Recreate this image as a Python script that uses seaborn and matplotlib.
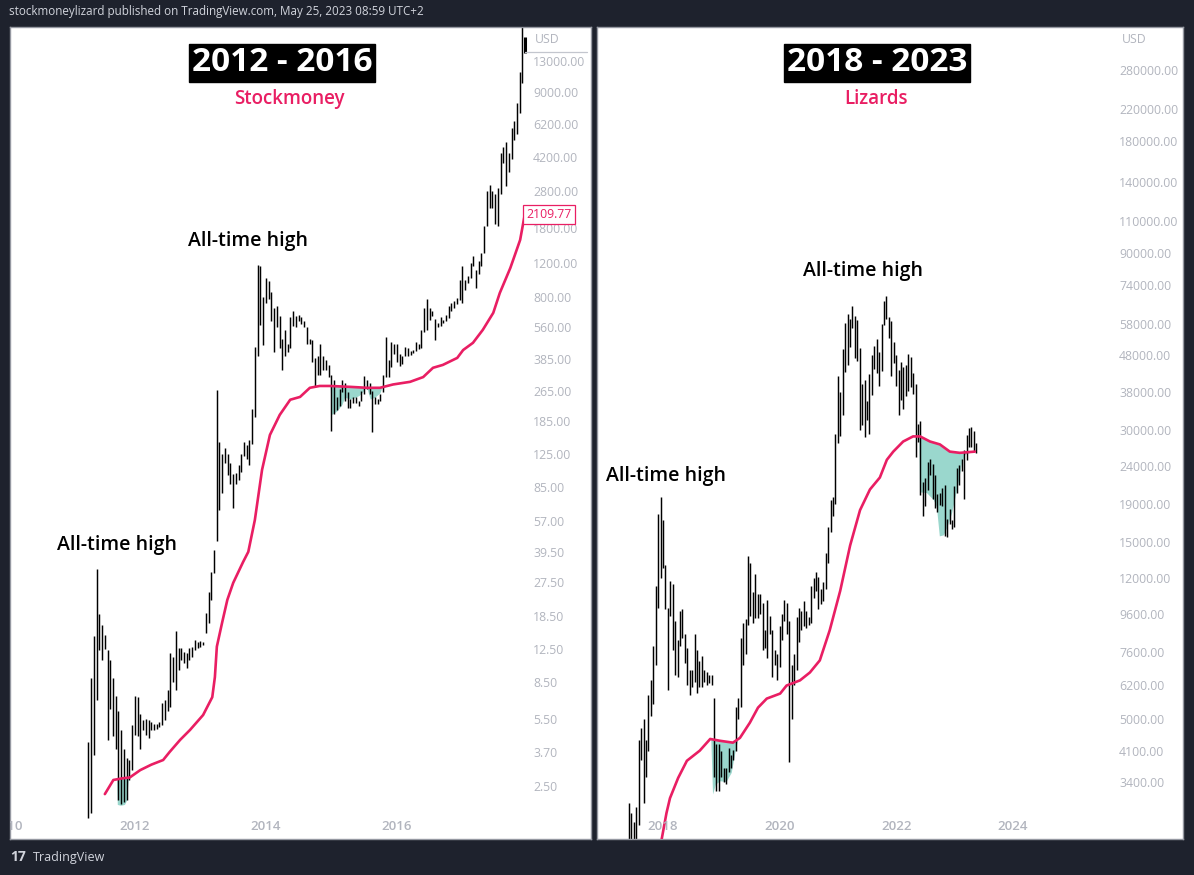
import numpy as np
import matplotlib
matplotlib.use("Agg")
import matplotlib.pyplot as plt
import matplotlib.transforms as mtransforms
from matplotlib.ticker import NullLocator
import seaborn as sns

sns.set_theme(style="white")
plt.rcParams["font.family"] = ["Open Sans", "DejaVu Sans"]

BG = "#1e222d"
PINK = "#e91e63"
TEAL = "#9ad7cd"
GREY = "#b2b5be"

## LEFT PANEL 2012 - 2016 (half-month bars from mid April 2011)
left_start = 2011.29
left_low = [1.7, 1.8, 3.6, 6.9, 12.4, 11.0, 12.5, 4.3, 6.2, 4.5, 3.85, 2.1,
            2.0, 2.05, 2.1, 2.67, 3.0, 4.55, 4.5, 3.85, 4.8, 4.55, 4.4, 4.8,
            4.8, 4.9, 5.0, 5.1, 5.4, 6.0, 6.3, 8.5, 7.7, 9.8, 11.0, 10.6,
            10.0, 11.0, 11.4, 12.4, 12.7, 12.9, 13.2, 15.2, 17.1, 22.4, 30.8, 45,
            65, 79, 113, 98, 88, 66, 88, 92, 101, 122, 118, 110,
            141, 195, 400, 576, 455, 750, 780, 600, 420, 560, 440, 340,
            400, 420, 440, 570, 560, 600, 580, 560, 460, 460, 370, 275,
            320, 320, 340, 340, 310, 165, 200, 210, 220, 260, 235, 215,
            215, 230, 230, 220, 235, 255, 270, 255, 162, 225, 225, 235,
            260, 310, 310, 350, 410, 370, 355, 365, 400, 400, 405, 415,
            425, 435, 440, 530, 540, 610, 640, 480, 560, 570, 590, 605,
            625, 680, 700, 740, 770, 750, 870, 950, 1000, 1150, 890, 1050,
            1150, 1350, 1850, 2300, 2300, 1900, 1850, 2700, 3900, 2970, 3500, 4100,
            5100, 5500, 7000, 10000, 14300]
left_high = [4.2, 8.9, 14.6, 32.3, 19.0, 16.7, 14.8, 12.4, 11.0, 8.9, 7.2, 6.0,
             4.8, 3.85, 3.47, 3.4, 5.1, 7.2, 7.1, 5.8, 5.4, 5.5, 5.4, 5.3,
             5.2, 5.2, 5.3, 6.6, 6.9, 7.7, 12.0, 11.4, 15.5, 12.7, 12.7, 12.1,
             12.0, 12.7, 12.9, 14.0, 13.6, 13.8, 13.6, 19.2, 24.6, 31.1, 40.4, 266,
             145, 125, 135, 125, 113, 99, 100, 110, 125, 145, 139, 148,
             213, 445, 1163, 1150, 800, 1000, 970, 850, 700, 720, 640, 490,
             540, 460, 630, 680, 640, 650, 630, 600, 560, 490, 480, 390,
             400, 460, 400, 380, 360, 320, 300, 245, 270, 300, 290, 260,
             240, 245, 245, 235, 265, 315, 300, 290, 265, 245, 240, 255,
             320, 500, 380, 470, 460, 460, 410, 400, 445, 440, 425, 430,
             470, 460, 540, 700, 780, 700, 680, 620, 590, 630, 610, 645,
             720, 750, 760, 790, 975, 1150, 980, 1020, 1200, 1300, 1100, 1230,
             1350, 1850, 2800, 3000, 2800, 2700, 2900, 4400, 4700, 5000, 4400, 5900,
             6400, 7900, 11400, 19800, 17300]
left_ma_years = [2011.54, 2011.67, 2011.80, 2011.92, 2012.08, 2012.25, 2012.43, 2012.53,
                 2012.69, 2012.84, 2013.04, 2013.18, 2013.22, 2013.25, 2013.33, 2013.41,
                 2013.50, 2013.65, 2013.73, 2013.83, 2013.94, 2014.06, 2014.21, 2014.37,
                 2014.52, 2014.67, 2014.82, 2014.98, 2015.29, 2015.54, 2015.74, 2015.94,
                 2016.20, 2016.40, 2016.55, 2016.70, 2016.92, 2017.01, 2017.16, 2017.31,
                 2017.47, 2017.57, 2017.73, 2017.80, 2017.88, 2017.95]
left_ma = [2.26, 2.67, 2.72, 2.75, 3.0, 3.2, 3.38, 3.72,
           4.29, 4.82, 5.75, 7.1, 9.0, 12.9, 17.1, 22.4,
           27.4, 35, 39.5, 57.5, 104, 157, 199, 238,
           246, 274, 280, 280, 277, 274, 274, 285,
           294, 311, 347, 359, 390, 428, 466, 543,
           664, 840, 1127, 1315, 1570, 2109.77]
left_zones = [
    ([2011.72, 2011.73, 2011.78, 2011.84, 2011.87, 2011.90],
     [99, 2.0, 1.98, 2.0, 2.1, 99]),
    ([2014.98, 2015.00, 2015.08, 2015.16, 2015.20, 2015.30, 2015.42, 2015.48, 2015.52],
     [999, 200, 208, 225, 245, 240, 250, 262, 999]),
    ([2015.54, 2015.59, 2015.66, 2015.74, 2015.77],
     [999, 240, 245, 258, 999]),
]
left_yticks = [2.5, 3.7, 5.5, 8.5, 12.5, 18.5, 27.5, 39.5, 57, 85, 125, 185,
               265, 385, 560, 800, 1200, 1800, 2800, 4200, 6200, 9000, 13000]
left_xticks = [2010, 2012, 2014, 2016]

## RIGHT PANEL 2018 - 2023 (half-month bars from June 2017)
right_start = 2017.417
right_low = [2100, 2200, 1850, 1850, 2600, 3900, 2970, 3500, 4100, 5100, 5500, 7000,
             10000, 12000, 12800, 9900, 6000, 9500, 7700, 6600, 6500, 7900, 8300, 7100,
             6200, 5800, 6100, 6300, 5900, 6100, 6100, 6300, 6200, 6250, 6200, 3500,
             3200, 3200, 3500, 3400, 3350, 3600, 3700, 3900, 4100, 5000, 5400, 7000,
             7500, 9000, 9500, 9100, 9400, 9400, 9600, 7700, 7800, 7300, 8500, 6500,
             7000, 6400, 6900, 8200, 9200, 8500, 3850, 5000, 6200, 6800, 8100, 8700,
             8900, 8800, 9000, 9100, 10600, 11100, 9900, 10200, 10400, 11200, 13200, 16000,
             17600, 19000, 27700, 29000, 33000, 43000, 45000, 50300, 56500, 47000, 46000, 30000,
             31000, 28800, 32000, 29300, 37300, 44000, 42900, 39600, 43300, 57800, 60000, 53300,
             42000, 45500, 39600, 33000, 36300, 34300, 37200, 38200, 39200, 37600, 25400, 28000,
             20100, 17600, 18800, 20700, 22700, 19600, 18500, 18100, 18900, 18800, 15600, 15500,
             16800, 16300, 16500, 20400, 21400, 23300, 19600, 24900, 27000, 27000, 26400, 26100]
right_high = [2980, 2800, 2650, 2900, 4400, 4750, 5000, 4400, 5800, 6400, 7900, 11400,
              17900, 19800, 17200, 13000, 10000, 11800, 11600, 9200, 8200, 9800, 9900, 8500,
              7800, 6800, 6800, 8500, 7700, 7200, 7400, 6800, 6700, 6600, 6600, 5700,
              4300, 4300, 4100, 3700, 3700, 4200, 4000, 4150, 5400, 5700, 8300, 9100,
              9300, 13800, 13200, 11000, 12300, 10900, 10900, 10300, 8700, 10500, 9500, 8700,
              7700, 7500, 8900, 9600, 10500, 10300, 9200, 7000, 7500, 9450, 10000, 9800,
              10400, 9800, 9450, 11400, 12000, 12500, 12100, 11200, 11700, 14000, 16500, 19500,
              19900, 29300, 42000, 38000, 49700, 58300, 61800, 60000, 64800, 61000, 59600, 50000,
              40000, 41000, 35900, 42500, 48000, 50500, 52900, 48800, 58000, 67000, 69000, 60700,
              59000, 52000, 47900, 43500, 45800, 44400, 45000, 48200, 47400, 42900, 39900, 31300,
              31800, 21800, 22400, 24600, 25200, 24400, 22800, 20200, 20400, 21000, 21400, 17300,
              18400, 17200, 21300, 23800, 24200, 25200, 26500, 29200, 30500, 30600, 29800, 27800]
right_ma_years = [2017.96, 2018.06, 2018.12, 2018.26, 2018.41, 2018.63, 2018.81, 2018.98,
                  2019.20, 2019.32, 2019.49, 2019.63, 2019.78, 2020.01, 2020.12, 2020.35,
                  2020.52, 2020.69, 2020.86, 2021.04, 2021.21, 2021.38, 2021.55, 2021.72,
                  2021.84, 2021.95, 2022.12, 2022.29, 2022.41, 2022.58, 2022.75, 2022.92,
                  2023.09, 2023.35]
right_ma = [2300, 2800, 3070, 3480, 3870, 4120, 4430, 4380,
            4330, 4460, 4900, 5380, 5690, 5870, 6170, 6370,
            6690, 7210, 8690, 11100, 14700, 18300, 20800, 22400,
            25000, 26300, 28000, 28900, 28900, 28000, 27500, 26300,
            26100, 26300]
right_zones = [
    ([2018.82, 2018.85, 2018.90, 2018.98, 2019.08, 2019.17, 2019.23, 2019.28],
     [1e6, 3150, 3350, 3420, 3400, 3600, 4050, 1e6]),
    ([2022.39, 2022.40, 2022.52, 2022.64, 2022.69, 2022.74, 2022.81, 2022.87,
      2022.95, 2023.01, 2023.07, 2023.12, 2023.18, 2023.30],
     [1e6, 20500, 20400, 19500, 18700, 15600, 15700, 16500,
      18000, 19900, 22100, 24500, 25900, 1e6]),
]
right_yticks = [3400, 4100, 5000, 6200, 7600, 9600, 12000, 15000, 19000, 24000,
                30000, 38000, 48000, 58000, 74000, 90000, 110000, 140000, 180000,
                220000, 280000]
right_xticks = [2018, 2020, 2022, 2024]

ath_text = "All-time high"

fig = plt.figure(figsize=(11.94, 8.75), dpi=100, facecolor=BG)
W, H = 1194, 875


def panel(px, xlim, ylim, start, lows, highs, ma_x, ma_y, zones,
          yticks, xticks, label_pad, thick_last=False):
    x0, x1, y0, y1 = px
    ax = fig.add_axes([x0 / W, 1 - y1 / H, (x1 - x0) / W, (y1 - y0) / H])
    ax.set_facecolor("white")
    xs = start + np.arange(len(lows)) / 24
    n = len(lows) - 1 if thick_last else len(lows)
    ax.vlines(xs[:n], lows[:n], highs[:n], color="black", lw=1.05, zorder=2)
    if thick_last:
        ax.vlines(xs[n:], lows[n:], highs[n:], color="black", lw=2.2, zorder=2)
    for zx, zb in zones:
        zx = np.array(zx)
        top = np.interp(zx, ma_x, ma_y)
        ax.fill_between(zx, np.minimum(zb, top), top, color=TEAL, lw=0, zorder=1)
    sns.lineplot(x=ma_x, y=ma_y, ax=ax, color=PINK, lw=1.9, zorder=3)
    ax.set_yscale("log")
    ax.set_xlim(*xlim)
    ax.set_ylim(*ylim)
    ax.yaxis.tick_right()
    ax.set_yticks(yticks)
    ax.set_yticklabels([f"{v:.2f}" for v in yticks])
    ax.yaxis.set_minor_locator(NullLocator())
    ax.tick_params(axis="y", length=0, pad=-label_pad * 0.72, labelsize=8.8,
                   labelcolor=GREY)
    ax.set_xticks([])
    ax.set_xlabel("")
    ax.set_ylabel("")
    tr = mtransforms.blended_transform_factory(ax.transData, ax.transAxes)
    for t in xticks:
        ax.text(t + 0.06 * (t == xticks[0] and t < xlim[0] + 0.1), 13 / (y1 - y0),
                str(t), transform=tr, ha="center", va="center",
                fontsize=9.5, color=GREY, fontweight="semibold", clip_on=True)
    for s in ax.spines.values():
        s.set_color("#9598a1")
        s.set_linewidth(1)
    return ax


axl = panel((10, 591, 27, 839), (2010.092, 2018.962), (1.33, 19410), left_start,
            left_low, left_high, left_ma_years, left_ma, left_zones,
            left_yticks, left_xticks, 58, thick_last=True)
axr = panel((597, 1183, 27, 839), (2016.868, 2026.92), (2383, 365600), right_start,
            right_low, right_high, right_ma_years, right_ma, right_zones,
            right_yticks, right_xticks, 64)

# price scale headers
axl.text(0.904, 0.984, "USD", transform=axl.transAxes, ha="left", va="center",
         fontsize=8.8, color=GREY)
axl.plot([0.886, 0.993], [0.969, 0.969], transform=axl.transAxes, color="#c3c6ce",
         lw=0.9, clip_on=False)
axr.text(0.896, 0.984, "USD", transform=axr.transAxes, ha="left", va="center",
         fontsize=8.8, color=GREY)
trl = mtransforms.blended_transform_factory(axl.transAxes, axl.transData)
axl.text(0.889, left_ma[-1], f"{left_ma[-1]:.2f}", transform=trl, ha="left",
         va="center", fontsize=8.8, color=PINK, zorder=5,
         bbox=dict(boxstyle="square,pad=0.25", fc="white", ec=PINK, lw=0.9))

# titles
for ax, cx, title, sub, scx in ((axl, 0.468, "2012 - 2016", "Stockmoney", 0.480),
                                (axr, 0.478, "2018 - 2023", "Lizards", 0.476)):
    ax.text(cx, 0.956, title, transform=ax.transAxes, ha="center", va="center",
            fontsize=24, fontweight="bold", color="white",
            bbox=dict(boxstyle="square,pad=0.08", fc="black", ec="black"))
    ax.text(scx, 0.911, sub, transform=ax.transAxes, ha="center", va="center",
            fontsize=13.5, fontweight="semibold", color=PINK)

for ax, pos in ((axl, (0.410, 0.736)), (axl, (0.184, 0.362)),
                (axr, (0.454, 0.700)), (axr, (0.118, 0.447))):
    ax.text(pos[0], pos[1], ath_text, transform=ax.transAxes, ha="center",
            va="center", fontsize=14, fontweight="semibold", color="black")

fig.text(9 / W, 1 - 12 / H,
         "stockmoneylizard published on TradingView.com, May 25, 2023 08:59 UTC+2",
         ha="left", va="center", fontsize=8.35, color="#d1d4dc")
fig.text(10 / W, 1 - 857 / H, "17", ha="left", va="center", fontsize=10,
         fontweight="bold", color="#d1d4dc")
fig.text(33 / W, 1 - 857 / H, "TradingView", ha="left", va="center", fontsize=9,
         color="#d1d4dc")

fig.savefig("out.png", dpi=100, facecolor=BG)
